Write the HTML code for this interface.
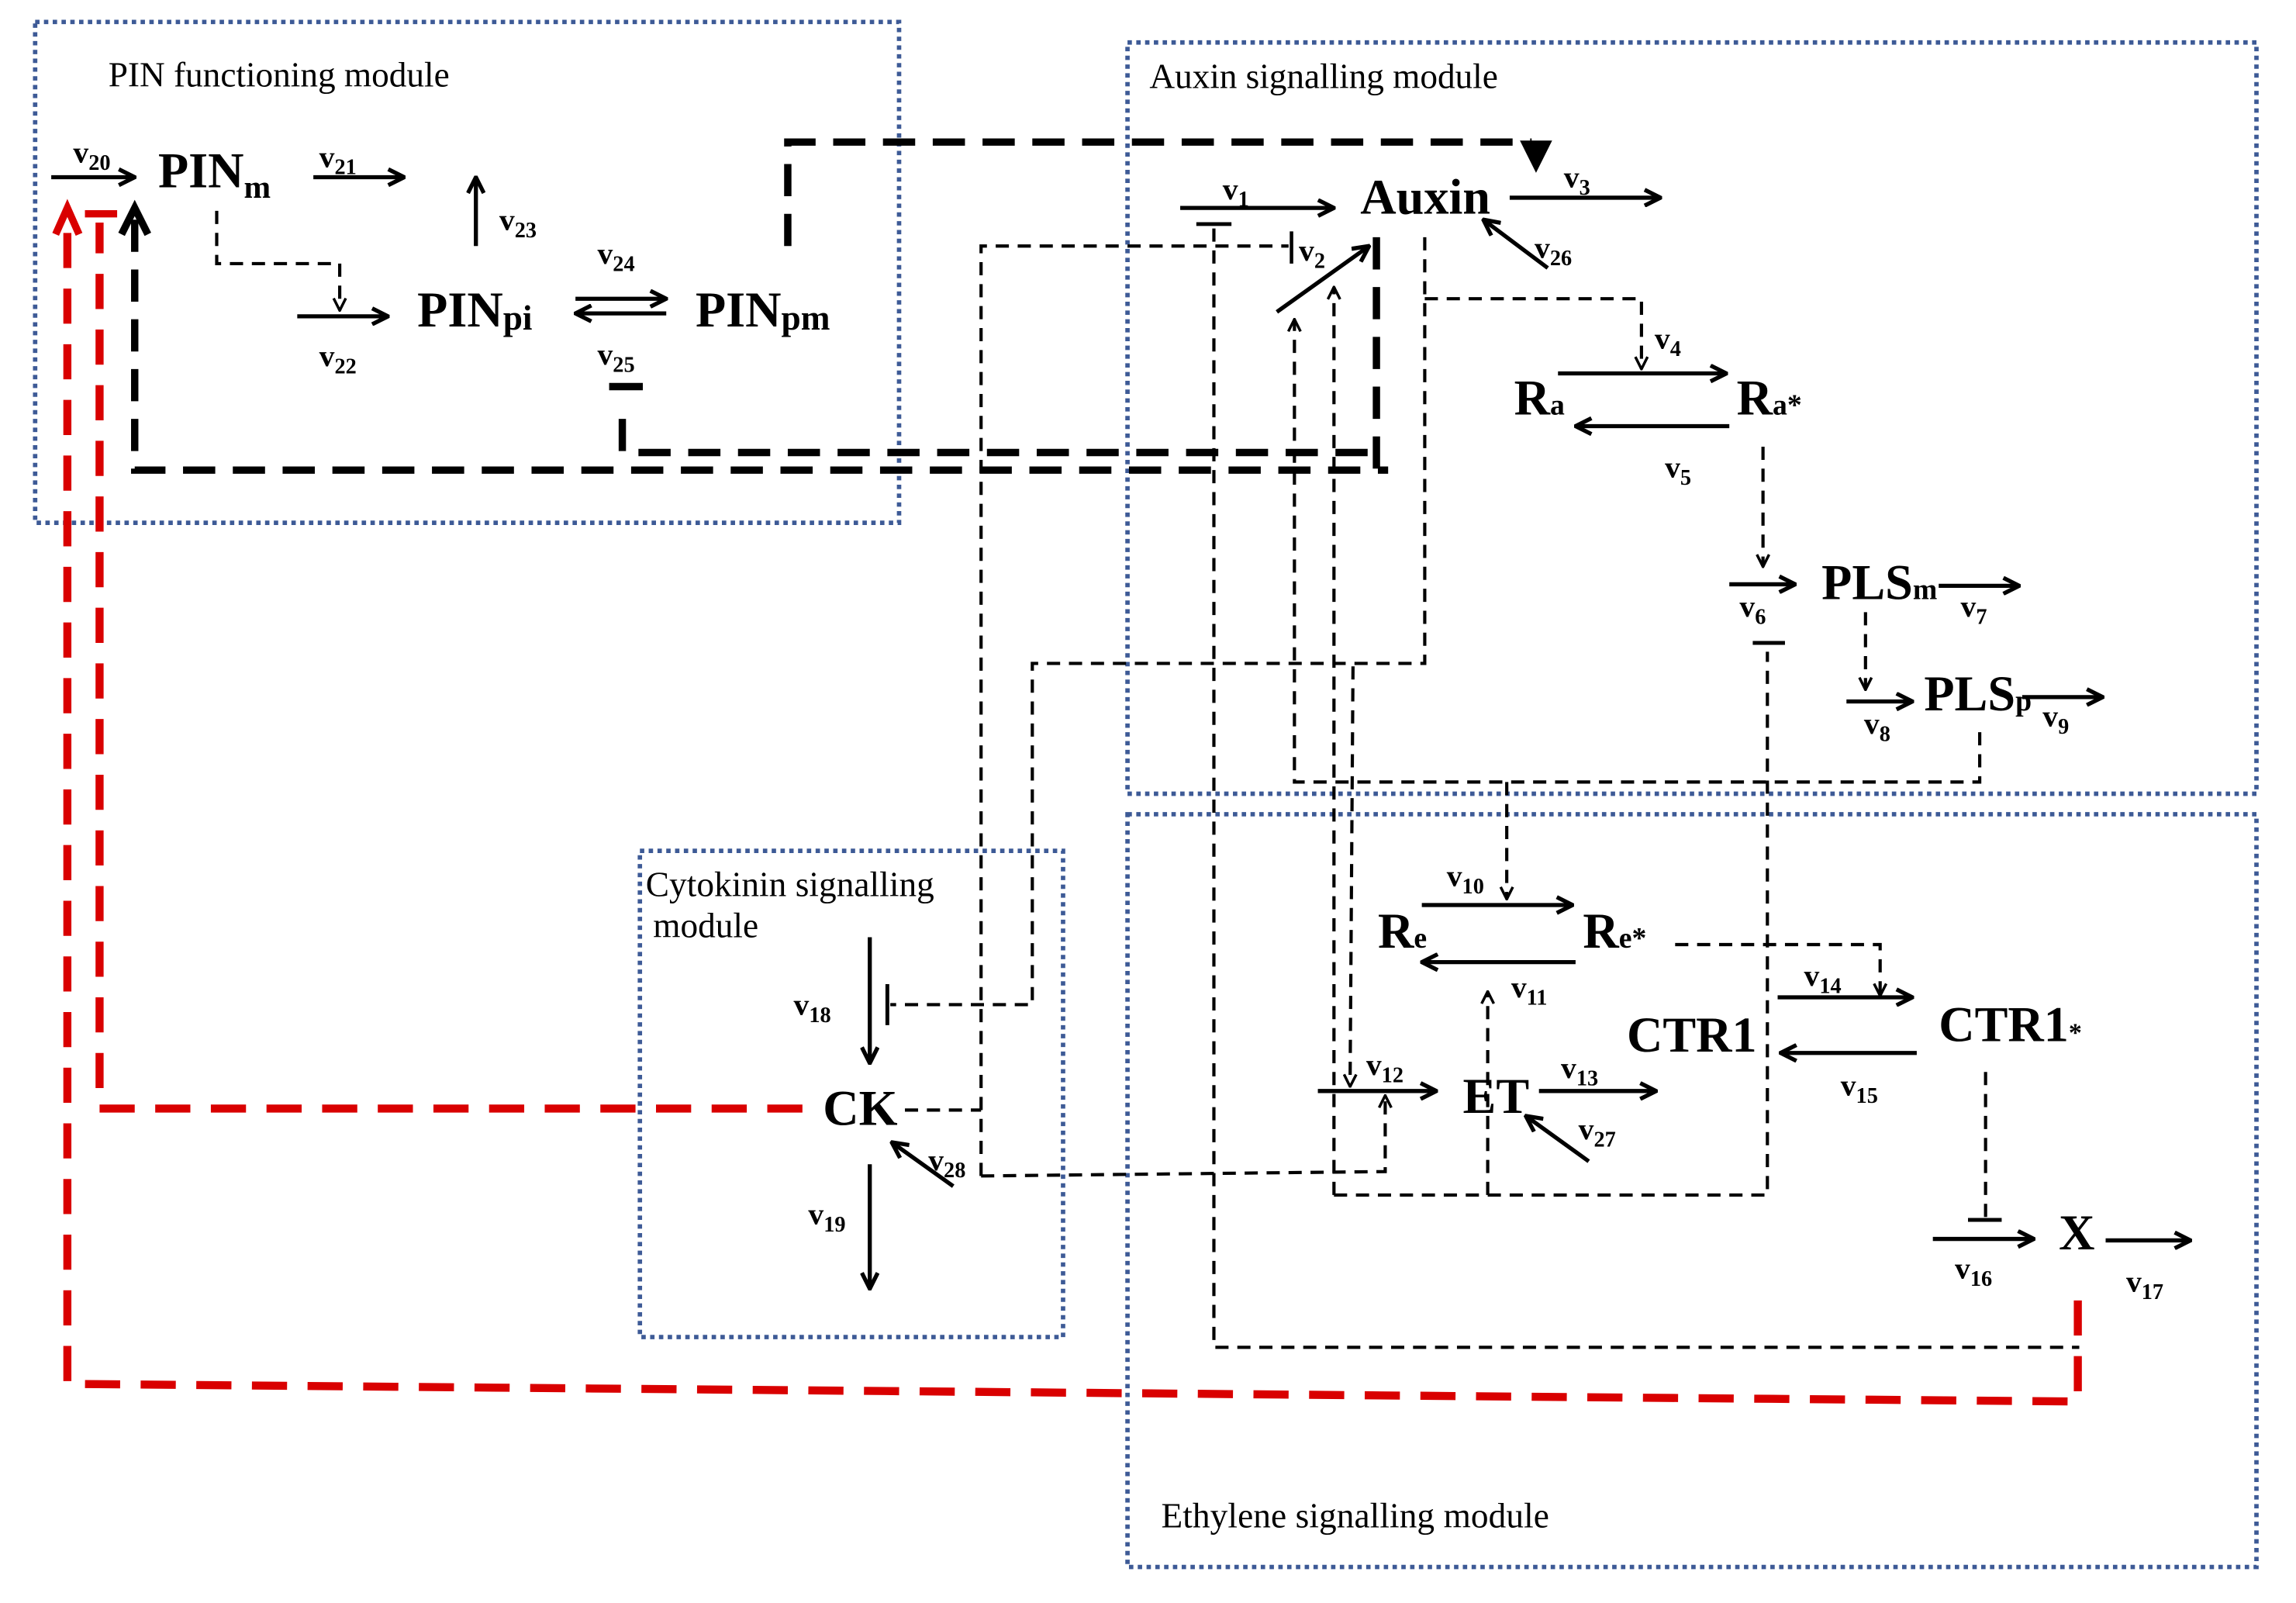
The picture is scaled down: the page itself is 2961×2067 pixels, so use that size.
<!DOCTYPE html>
<html><head><meta charset="utf-8"><style>
html,body{margin:0;padding:0;background:#fff}
svg{display:block}
text{font-family:"Liberation Serif",serif}
.n{font-weight:bold;font-size:34px}
.v{font-weight:bold;font-size:21px}
.m{font-size:24px}
.s{stroke:#000;stroke-width:2.8;fill:none}
.d{stroke:#000;stroke-width:2.2;fill:none;stroke-dasharray:9 6}
.t{stroke:#000;stroke-width:5;fill:none;stroke-dasharray:22 12}
.r{stroke:#d90000;stroke-width:5.5;fill:none;stroke-dasharray:24 14}
.b{stroke:#3d5a96;stroke-width:3;fill:none;stroke-dasharray:3 3}
</style></head><body>
<svg width="2961" height="2067" viewBox="0 0 1568 1094.6" preserveAspectRatio="none" xmlns="http://www.w3.org/2000/svg">
<defs>
<marker id="a" viewBox="0 0 12 12" refX="11" refY="6" markerWidth="13" markerHeight="13" markerUnits="userSpaceOnUse" orient="auto"><path d="M1,1 L11,6 L1,11" fill="none" stroke="#000" stroke-width="2.6"/></marker>
<marker id="ad" viewBox="0 0 12 12" refX="11" refY="6" markerWidth="10" markerHeight="10" markerUnits="userSpaceOnUse" orient="auto"><path d="M1,1 L11,6 L1,11" fill="none" stroke="#000" stroke-width="2.2"/></marker>
</defs>
<rect class="b" x="24" y="15" width="590" height="342"/>
<rect class="b" x="770" y="29" width="771" height="513"/>
<rect class="b" x="770" y="556" width="771" height="514"/>
<rect class="b" x="437" y="581" width="289" height="332"/>
<text class="m" x="74" y="59" textLength="233">PIN functioning module</text>
<text class="m" x="785" y="60" textLength="238">Auxin signalling module</text>
<text class="m" x="441" y="612" textLength="197">Cytokinin signalling</text>
<text class="m" x="446" y="640">module</text>
<text class="m" x="793" y="1043" textLength="265">Ethylene signalling module</text>

<path class="r" d="M1419,888 L1419,957 L46,945 L46,152"/>
<path d="M38,160 L46,142 L54,160" fill="none" stroke="#d90000" stroke-width="5"/>
<path class="r" d="M548,757 L68,757 L68,152"/>
<path d="M58,146 L80,146" stroke="#d90000" stroke-width="5"/>

<path class="t" d="M538,168 L538,97 L1046,97"/>
<path d="M1038,96 L1060,96 L1049,118 Z" fill="#000"/>
<path class="t" d="M425,286 L425,309 L940,309"/>
<path class="t" d="M92,150 L92,321 L948,321"/>
<path class="t" d="M940,162 L940,321"/>
<path d="M83,160 L92,142 L101,160" fill="none" stroke="#000" stroke-width="5"/>
<path d="M416,264 L439,264" stroke="#000" stroke-width="5"/>

<path class="d" d="M148,144 L148,180 L232,180 L232,212" marker-end="url(#ad)"/>
<path class="d" d="M829,156 L829,920 L1420,920"/>
<path class="d" d="M670,803 L670,168 L880,168"/>
<path d="M882,158 L882,180" stroke="#000" stroke-width="2.4"/>
<path class="d" d="M670,803 L946,800 L946,748" marker-end="url(#ad)"/>
<path class="d" d="M618,758 L670,758"/>
<path class="d" d="M973,162 L973,453 L705,453 L705,686 L608,686"/>
<path d="M606,672 L606,700" stroke="#000" stroke-width="2.6"/>
<path class="d" d="M924,455 L922,742" marker-end="url(#ad)"/>
<path class="d" d="M911,816 L911,196" marker-end="url(#ad)"/>
<path class="d" d="M1352,500 L1352,534 L884,534 L884,218" marker-end="url(#ad)"/>
<path class="d" d="M911,816 L1207,816 L1207,445"/>
<path d="M1197,439 L1219,439" stroke="#000" stroke-width="2.6"/>
<path class="d" d="M973,204 L1121,204 L1121,252" marker-end="url(#ad)"/>
<path class="d" d="M1204,305 L1204,387" marker-end="url(#ad)"/>
<path class="d" d="M1274,418 L1274,471" marker-end="url(#ad)"/>
<path class="d" d="M1029,534 L1029,614" marker-end="url(#ad)"/>
<path class="d" d="M1016,816 L1016,677" marker-end="url(#ad)"/>
<path class="d" d="M1144,645 L1284,645 L1284,680" marker-end="url(#ad)"/>
<path class="d" d="M1356,732 L1356,832"/>
<path d="M1344,833 L1367,833" stroke="#000" stroke-width="2.6"/>
<path d="M817,153 L841,153" stroke="#000" stroke-width="2.6"/>

<path class="s" d="M35,121 L92,121" marker-end="url(#a)"/>
<path class="s" d="M214,121 L276,121" marker-end="url(#a)"/>
<path class="s" d="M325,168 L325,121" marker-end="url(#a)"/>
<path class="s" d="M203,216 L265,216" marker-end="url(#a)"/>
<path class="s" d="M393,204 L455,204" marker-end="url(#a)"/>
<path class="s" d="M455,214 L393,214" marker-end="url(#a)"/>
<path class="s" d="M806,142 L911,142" marker-end="url(#a)"/>
<path class="s" d="M872,213 L935,168" marker-end="url(#a)"/>
<path class="s" d="M1031,135 L1134,135" marker-end="url(#a)"/>
<path class="s" d="M1057,183 L1013,150" marker-end="url(#a)"/>
<path class="s" d="M1064,255 L1179,255" marker-end="url(#a)"/>
<path class="s" d="M1181,291 L1076,291" marker-end="url(#a)"/>
<path class="s" d="M1181,399 L1226,399" marker-end="url(#a)"/>
<path class="s" d="M1324,400 L1379,400" marker-end="url(#a)"/>
<path class="s" d="M1261,479 L1306,479" marker-end="url(#a)"/>
<path class="s" d="M1381,476 L1436,476" marker-end="url(#a)"/>
<path class="s" d="M971,618 L1074,618" marker-end="url(#a)"/>
<path class="s" d="M1076,657 L971,657" marker-end="url(#a)"/>
<path class="s" d="M1214,681 L1306,681" marker-end="url(#a)"/>
<path class="s" d="M1309,719 L1216,719" marker-end="url(#a)"/>
<path class="s" d="M900,745 L981,745" marker-end="url(#a)"/>
<path class="s" d="M1051,745 L1131,745" marker-end="url(#a)"/>
<path class="s" d="M1085,793 L1042,762" marker-end="url(#a)"/>
<path class="s" d="M1320,846 L1389,846" marker-end="url(#a)"/>
<path class="s" d="M1438,847 L1496,847" marker-end="url(#a)"/>
<path class="s" d="M594,640 L594,726" marker-end="url(#a)"/>
<path class="s" d="M594,795 L594,880" marker-end="url(#a)"/>
<path class="s" d="M651,810 L609,780" marker-end="url(#a)"/>

<text class="n" x="108" y="128">PIN<tspan font-size="22" dy="7">m</tspan></text>
<text class="n" x="285" y="223">PIN<tspan font-size="24" dy="2">pi</tspan></text>
<text class="n" x="475" y="223">PIN<tspan font-size="24" dy="2">pm</tspan></text>
<text class="n" x="929" y="146">Auxin</text>
<text class="n" x="1034" y="283">R<tspan font-size="20">a</tspan></text>
<text class="n" x="1186" y="283">R<tspan font-size="20">a*</tspan></text>
<text class="n" x="1244" y="409">PLS<tspan font-size="20">m</tspan></text>
<text class="n" x="1314" y="485">PLS<tspan font-size="20">p</tspan></text>
<text class="n" x="941" y="647">R<tspan font-size="20">e</tspan></text>
<text class="n" x="1081" y="647">R<tspan font-size="20">e*</tspan></text>
<text class="n" x="1111" y="718">CTR1</text>
<text class="n" x="1324" y="711">CTR1<tspan font-size="18">*</tspan></text>
<text class="n" x="999" y="760">ET</text>
<text class="n" x="1406" y="853">X</text>
<text class="n" x="562" y="768">CK</text>

<g class="v">
<text x="50" y="111">v<tspan font-size="15" dy="5">20</tspan></text>
<text x="218" y="114">v<tspan font-size="15" dy="5">21</tspan></text>
<text x="341" y="157">v<tspan font-size="15" dy="5">23</tspan></text>
<text x="218" y="250">v<tspan font-size="15" dy="5">22</tspan></text>
<text x="408" y="180">v<tspan font-size="15" dy="5">24</tspan></text>
<text x="408" y="249">v<tspan font-size="15" dy="5">25</tspan></text>
<text x="835" y="136">v<tspan font-size="15" dy="5">1</tspan></text>
<text x="887" y="178">v<tspan font-size="15" dy="5">2</tspan></text>
<text x="1068" y="128">v<tspan font-size="15" dy="5">3</tspan></text>
<text x="1048" y="176">v<tspan font-size="15" dy="5">26</tspan></text>
<text x="1130" y="238">v<tspan font-size="15" dy="5">4</tspan></text>
<text x="1137" y="326">v<tspan font-size="15" dy="5">5</tspan></text>
<text x="1188" y="421">v<tspan font-size="15" dy="5">6</tspan></text>
<text x="1339" y="421">v<tspan font-size="15" dy="5">7</tspan></text>
<text x="1273" y="501">v<tspan font-size="15" dy="5">8</tspan></text>
<text x="1395" y="496">v<tspan font-size="15" dy="5">9</tspan></text>
<text x="988" y="605">v<tspan font-size="15" dy="5">10</tspan></text>
<text x="1032" y="681">v<tspan font-size="15" dy="5">11</tspan></text>
<text x="933" y="734">v<tspan font-size="15" dy="5">12</tspan></text>
<text x="1066" y="736">v<tspan font-size="15" dy="5">13</tspan></text>
<text x="1232" y="673">v<tspan font-size="15" dy="5">14</tspan></text>
<text x="1257" y="748">v<tspan font-size="15" dy="5">15</tspan></text>
<text x="1078" y="778">v<tspan font-size="15" dy="5">27</tspan></text>
<text x="1335" y="873">v<tspan font-size="15" dy="5">16</tspan></text>
<text x="1452" y="882">v<tspan font-size="15" dy="5">17</tspan></text>
<text x="542" y="693">v<tspan font-size="15" dy="5">18</tspan></text>
<text x="552" y="836">v<tspan font-size="15" dy="5">19</tspan></text>
<text x="634" y="799">v<tspan font-size="15" dy="5">28</tspan></text>
</g>
</svg>
</body></html>
